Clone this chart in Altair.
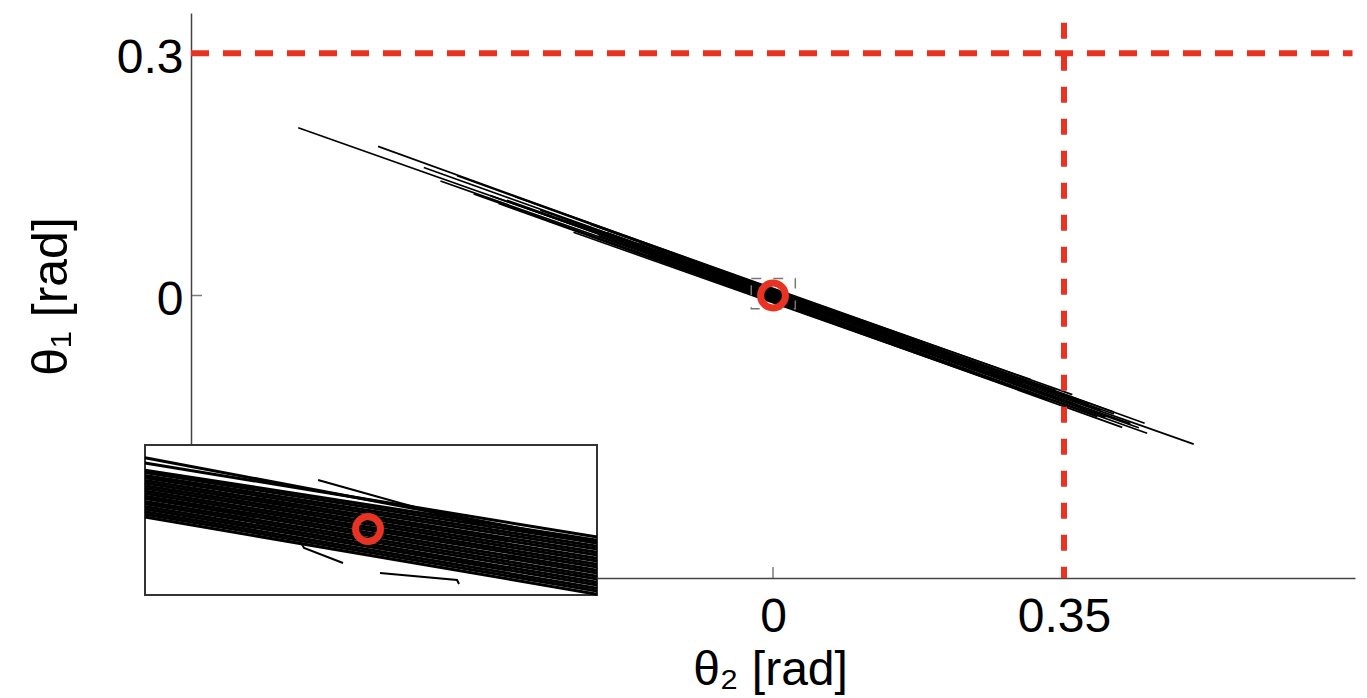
import altair as alt
import pandas as pd

RED = "#e83323"
FONT = "Liberation Sans"

# ---- main panel: trajectories in (theta2, theta1) [rad], start/end points
traj_x0 = [-0.571, -0.475, -0.420, -0.400, -0.380, -0.360, -0.340, -0.330, -0.310, -0.300,
           -0.280, -0.270, -0.250, -0.240, -0.220, -0.210, -0.190, -0.180, -0.160, -0.150,
           -0.130, -0.120, -0.100, -0.090, -0.070, -0.060, -0.320, -0.260, -0.200, -0.140]
traj_y0 = [0.2078, 0.1847, 0.1586, 0.1418, 0.1485, 0.1258, 0.1237, 0.1141, 0.1225, 0.1096,
           0.1058, 0.0925, 0.0945, 0.0784, 0.0882, 0.0742, 0.0720, 0.0591, 0.0654, 0.0499,
           0.0481, 0.0514, 0.0308, 0.0369, 0.0226, 0.0243, 0.1180, 0.0985, 0.0780, 0.0560]
traj_x1 = [0.506, 0.447, 0.410, 0.430, 0.390, 0.450, 0.380, 0.420, 0.360, 0.400,
           0.340, 0.440, 0.370, 0.330, 0.410, 0.300, 0.350, 0.390, 0.280, 0.320,
           0.260, 0.310, 0.240, 0.290, 0.200, 0.180, 0.395, 0.365, 0.345, 0.305]
traj_y1 = [-0.1842, -0.1583, -0.1469, -0.1587, -0.1403, -0.1707, -0.1340, -0.1634, -0.1228, -0.1508,
           -0.1174, -0.1638, -0.1374, -0.1291, -0.1443, -0.1084, -0.1241, -0.1501, -0.0979, -0.1189,
           -0.0962, -0.1042, -0.0943, -0.1019, -0.0762, -0.0650, -0.1420, -0.1350, -0.1230, -0.1150]

limit_theta1 = [0.3]
limit_theta2 = [0.35]
x_ticks = [0, 0.35]
y_ticks = [0, 0.3]
x_domain = [-0.7, 0.7]
y_domain = [-0.35, 0.35]

# zoomed region (shown in the inset)
zoom_x = [-0.02615, 0.02685]
zoom_y = [-0.0165, 0.021]

# ---- inset: band lines crossing the zoom window (left y, right y)
inset_yl = [0.0178, 0.0165, 0.0147, 0.0141, 0.0134, 0.0128, 0.0121, 0.0115, 0.0108, 0.0102,
            0.0095, 0.0089, 0.0082, 0.0076, 0.0069, 0.0063, 0.0056, 0.0050, 0.0043, 0.0037, 0.0030]
inset_yr = [-0.0035, -0.0020, -0.0028, -0.0035, -0.0043, -0.0050, -0.0058, -0.0065, -0.0073, -0.0080,
            -0.0088, -0.0095, -0.0103, -0.0110, -0.0118, -0.0125, -0.0133, -0.0140, -0.0148, -0.0155, -0.0163]
# short hooked trajectory pieces in the inset
hook_x = [[-0.00586, 0.00375, 0.01431], [-0.00797, -0.00750, -0.00293], [0.00141, 0.01044, 0.01067]]
hook_y = [[0.01225, 0.00650, 0.00050], [-0.00300, -0.00475, -0.00850], [-0.01100, -0.01275, -0.01375]]

# ---------- tables
rows = []
for i, (a, b, c, d) in enumerate(zip(traj_x0, traj_y0, traj_x1, traj_y1)):
    rows.append({"id": i, "k": 0, "t2": a, "t1": b})
    rows.append({"id": i, "k": 1, "t2": c, "t1": d})
main_df = pd.DataFrame(rows)

irows = []
for i, (a, b) in enumerate(zip(inset_yl, inset_yr)):
    irows.append({"id": i, "k": 0, "t2": zoom_x[0], "t1": a})
    irows.append({"id": i, "k": 1, "t2": zoom_x[1], "t1": b})
hrows = []
for j, (hx, hy) in enumerate(zip(hook_x, hook_y)):
    for k, (a, b) in enumerate(zip(hx, hy)):
        hrows.append({"id": 100 + j, "k": k, "t2": a, "t1": b})
inset_df = pd.DataFrame(irows)
hook_df = pd.DataFrame(hrows)

xs = alt.Scale(domain=x_domain, nice=False, zero=False)
ys = alt.Scale(domain=y_domain, nice=False, zero=False)

LABEL_EXPR = "format(datum.value, '.2~f')"

xaxis = alt.Axis(values=x_ticks, labelExpr=LABEL_EXPR, grid=False, ticks=False, tickSize=0,
                 domainColor="#444", domainWidth=1.5,
                 labelFont=FONT, labelFontSize=48, labelColor="black",
                 labelBaseline="alphabetic", labelPadding=53, labelFlush=False, labelOverlap=False,
                 title="θ₂ [rad]", titleFont=FONT, titleFontSize=48, titleFontWeight="normal",
                 titleColor="black", titleBaseline="alphabetic", titleY=106, titleX=579,
                 titleAlign="center")
yaxis = alt.Axis(values=y_ticks, labelExpr=LABEL_EXPR, grid=False, ticks=False, tickSize=0,
                 domainColor="#444", domainWidth=1.5,
                 labelFont=FONT, labelFontSize=48, labelColor="black",
                 labelBaseline="middle", labelOffset=5, labelPadding=8, labelOverlap=False,
                 title="θ₁ [rad]", titleFont=FONT, titleFontSize=50, titleFontWeight="normal",
                 titleColor="black", titleBaseline="alphabetic", titleAngle=270,
                 titleX=-125, titleY=283, titleAlign="center")


def X(f):
    return alt.X(f, scale=xs, axis=xaxis)


def Y(f):
    return alt.Y(f, scale=ys, axis=yaxis)


lines = alt.Chart(main_df).mark_line(color="black", strokeWidth=1.7).encode(
    x=X("t2:Q"), y=Y("t1:Q"), detail="id:N", order="k:Q")

xt_df = pd.DataFrame({"t2": x_ticks, "t1": [y_domain[0]] * len(x_ticks)})
yt_df = pd.DataFrame({"t2": [x_domain[0]] * len(y_ticks), "t1": y_ticks})
xticks = alt.Chart(xt_df).mark_tick(orient="vertical", size=11, thickness=1.5,
                                    color="#444", yOffset=-5.5).encode(x=X("t2:Q"), y=Y("t1:Q"))
yticks = alt.Chart(yt_df).mark_tick(orient="horizontal", size=11, thickness=1.5,
                                    color="#444", xOffset=5.5).encode(x=X("t2:Q"), y=Y("t1:Q"))

box_df = pd.DataFrame({"a": [zoom_x[0]], "b": [zoom_x[1]], "c": [zoom_y[0]], "d": [zoom_y[1]]})
zoombox = alt.Chart(box_df).mark_rect(fillOpacity=0, stroke="#777", strokeWidth=1.5,
                                      strokeDash=[10, 12]).encode(
    x=X("a:Q"), x2="b:Q", y=Y("c:Q"), y2="d:Q")

h_df = pd.DataFrame({"t1": limit_theta1, "a": [x_domain[0]], "b": [0.697]})
hrule = alt.Chart(h_df).mark_rule(color=RED, strokeWidth=6, strokeDash=[18, 14]).encode(
    x=X("a:Q"), x2="b:Q", y=Y("t1:Q"))
v_df = pd.DataFrame({"t2": limit_theta2, "a": [0.338], "b": [y_domain[0]]})
vrule = alt.Chart(v_df).mark_rule(color=RED, strokeWidth=6, strokeDash=[16, 16]).encode(
    x=X("t2:Q"), y=Y("a:Q"), y2="b:Q")

origin_df = pd.DataFrame({"t2": [0.0], "t1": [0.0]})
circle = alt.Chart(origin_df).mark_point(shape="circle", size=620, filled=False, color=RED,
                                         strokeWidth=7, opacity=1).encode(x=X("t2:Q"), y=Y("t1:Q"))

main = alt.layer(lines, xticks, yticks, zoombox, hrule, vrule, circle)

# ---- inset
ixs = alt.Scale(domain=zoom_x, range=[-46, 406], nice=False, zero=False)
iys = alt.Scale(domain=zoom_y, range=[582, 432], nice=False, zero=False)


def IX(f):
    return alt.X(f, scale=ixs, axis=None)


def IY(f):
    return alt.Y(f, scale=iys, axis=None)


irect = alt.Chart(box_df).mark_rect(fill="white", stroke="#333", strokeWidth=2).encode(
    x=IX("a:Q"), x2="b:Q", y=IY("c:Q"), y2="d:Q")
ilines = alt.Chart(inset_df).mark_line(color="black", strokeWidth=3).encode(
    x=IX("t2:Q"), y=IY("t1:Q"), detail="id:N", order="k:Q")
ihooks = alt.Chart(hook_df).mark_line(color="black", strokeWidth=2).encode(
    x=IX("t2:Q"), y=IY("t1:Q"), detail="id:N", order="k:Q")
icircle = alt.Chart(origin_df).mark_point(shape="circle", size=620, filled=False, color=RED,
                                          strokeWidth=7, opacity=1).encode(x=IX("t2:Q"), y=IY("t1:Q"))
inset = alt.layer(irect, ilines, ihooks, icircle)

chart = alt.layer(main, inset).resolve_scale(x="independent", y="independent").properties(
    width=1164, height=565,
    autosize=alt.AutoSizeParams(type="none"),
    padding={"left": 191, "top": 13, "right": 12, "bottom": 120},
    background="white",
).configure_view(stroke=None)

chart.save("out.html", embed_options={"renderer": "svg", "actions": False})
